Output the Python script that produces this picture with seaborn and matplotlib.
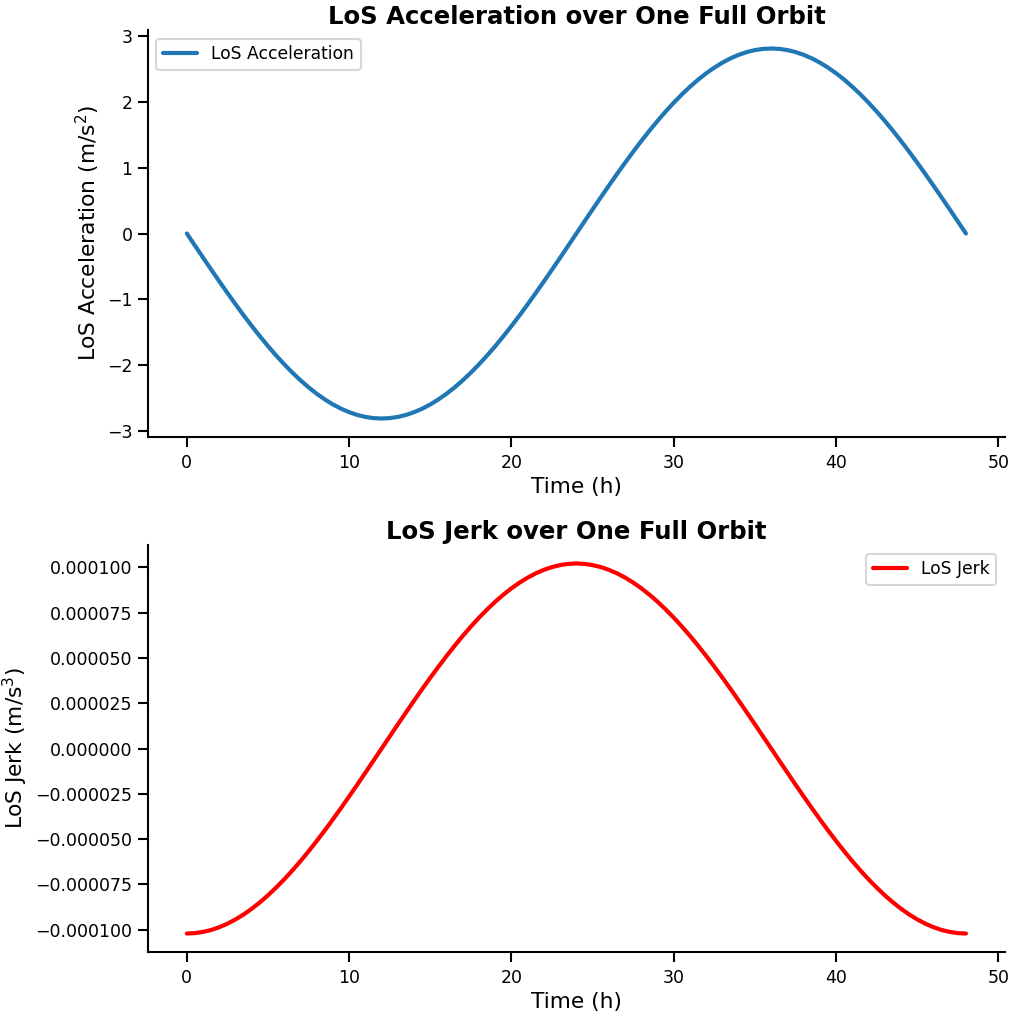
import numpy as np
import pandas as pd
import matplotlib
matplotlib.use("Agg")
import matplotlib.pyplot as plt
import seaborn as sns

# Sampled every half hour over one 48 h orbit
time_h = [i * 0.5 for i in range(97)]

los_acceleration = [
    0.000, -0.184, -0.367, -0.548, -0.727, -0.903, -1.075, -1.243, -1.405, -1.561, -1.711, -1.853,
    -1.987, -2.113, -2.229, -2.337, -2.434, -2.520, -2.596, -2.661, -2.714, -2.756, -2.786, -2.804,
    -2.810, -2.804, -2.786, -2.756, -2.714, -2.661, -2.596, -2.520, -2.434, -2.337, -2.229, -2.113,
    -1.987, -1.853, -1.711, -1.561, -1.405, -1.243, -1.075, -0.903, -0.727, -0.548, -0.367, -0.184,
    0.000, 0.184, 0.367, 0.548, 0.727, 0.903, 1.075, 1.243, 1.405, 1.561, 1.711, 1.853,
    1.987, 2.113, 2.229, 2.337, 2.434, 2.520, 2.596, 2.661, 2.714, 2.756, 2.786, 2.804,
    2.810, 2.804, 2.786, 2.756, 2.714, 2.661, 2.596, 2.520, 2.434, 2.337, 2.229, 2.113,
    1.987, 1.853, 1.711, 1.561, 1.405, 1.243, 1.075, 0.903, 0.727, 0.548, 0.367, 0.184,
    0.000,
]

# Jerk in units of 1e-6 m/s^3
los_jerk_micro = [
    -102.20, -101.99, -101.32, -100.24, -98.71, -96.77, -94.42, -91.66, -88.51, -84.98, -81.09, -76.83,
    -72.27, -67.38, -62.22, -56.78, -51.10, -45.20, -39.11, -32.85, -26.45, -19.94, -13.34, -6.68,
    0.00, 6.68, 13.34, 19.94, 26.45, 32.85, 39.11, 45.20, 51.10, 56.78, 62.22, 67.38,
    72.27, 76.83, 81.09, 84.98, 88.51, 91.66, 94.42, 96.77, 98.71, 100.24, 101.32, 101.99,
    102.20, 101.99, 101.32, 100.24, 98.71, 96.77, 94.42, 91.66, 88.51, 84.98, 81.09, 76.83,
    72.27, 67.38, 62.22, 56.78, 51.10, 45.20, 39.11, 32.85, 26.45, 19.94, 13.34, 6.68,
    0.00, -6.68, -13.34, -19.94, -26.45, -32.85, -39.11, -45.20, -51.10, -56.78, -62.22, -67.38,
    -72.27, -76.83, -81.09, -84.98, -88.51, -91.66, -94.42, -96.77, -98.71, -100.24, -101.32, -101.99,
    -102.20,
]

df = pd.DataFrame({
    "Time (h)": time_h,
    "acc": los_acceleration,
    "jerk": np.array(los_jerk_micro) * 1e-6,
})

sns.set_theme(style="ticks", context="talk")
plt.rcParams.update({
    "font.family": ["DejaVu Sans"],
    "text.color": "black",
    "axes.labelcolor": "black",
    "axes.edgecolor": "black",
    "xtick.color": "black",
    "ytick.color": "black",
    "xtick.labelsize": 12.5,
    "ytick.labelsize": 12.5,
    "axes.labelsize": 15.7,
    "legend.fontsize": 12.3,
    "axes.linewidth": 1.5,
    "xtick.major.width": 1.5,
    "ytick.major.width": 1.5,
    "xtick.major.size": 7,
    "ytick.major.size": 7,
    "xtick.major.pad": 5,
    "ytick.major.pad": 4,
})

fig = plt.figure(figsize=(10.13, 10.17), dpi=100)
ax1 = fig.add_axes([0.146, 0.5703, 0.846, 0.4002])
ax2 = fig.add_axes([0.146, 0.0639, 0.846, 0.4002])

sns.lineplot(data=df, x="Time (h)", y="acc", ax=ax1, color="#1f77b4",
             linewidth=3.0, label="LoS Acceleration")
ax1.set_title("LoS Acceleration over One Full Orbit", fontsize=17.6, fontweight="bold", pad=4)
ax1.set_ylabel("LoS Acceleration (m/s$^2$)")
ax1.legend(loc="upper left")

sns.lineplot(data=df, x="Time (h)", y="jerk", ax=ax2, color="red",
             linewidth=3.0, label="LoS Jerk")
ax2.set_title("LoS Jerk over One Full Orbit", fontsize=17.6, fontweight="bold", pad=4)
ax2.set_ylabel("LoS Jerk (m/s$^3$)")
ax2.legend(loc="upper right")

for ax in (ax1, ax2):
    ax.set_xticks([0, 10, 20, 30, 40, 50])
    ax.ticklabel_format(axis="y", style="plain", useOffset=False)

sns.despine(fig=fig)
fig.savefig("out.png", dpi=100)
